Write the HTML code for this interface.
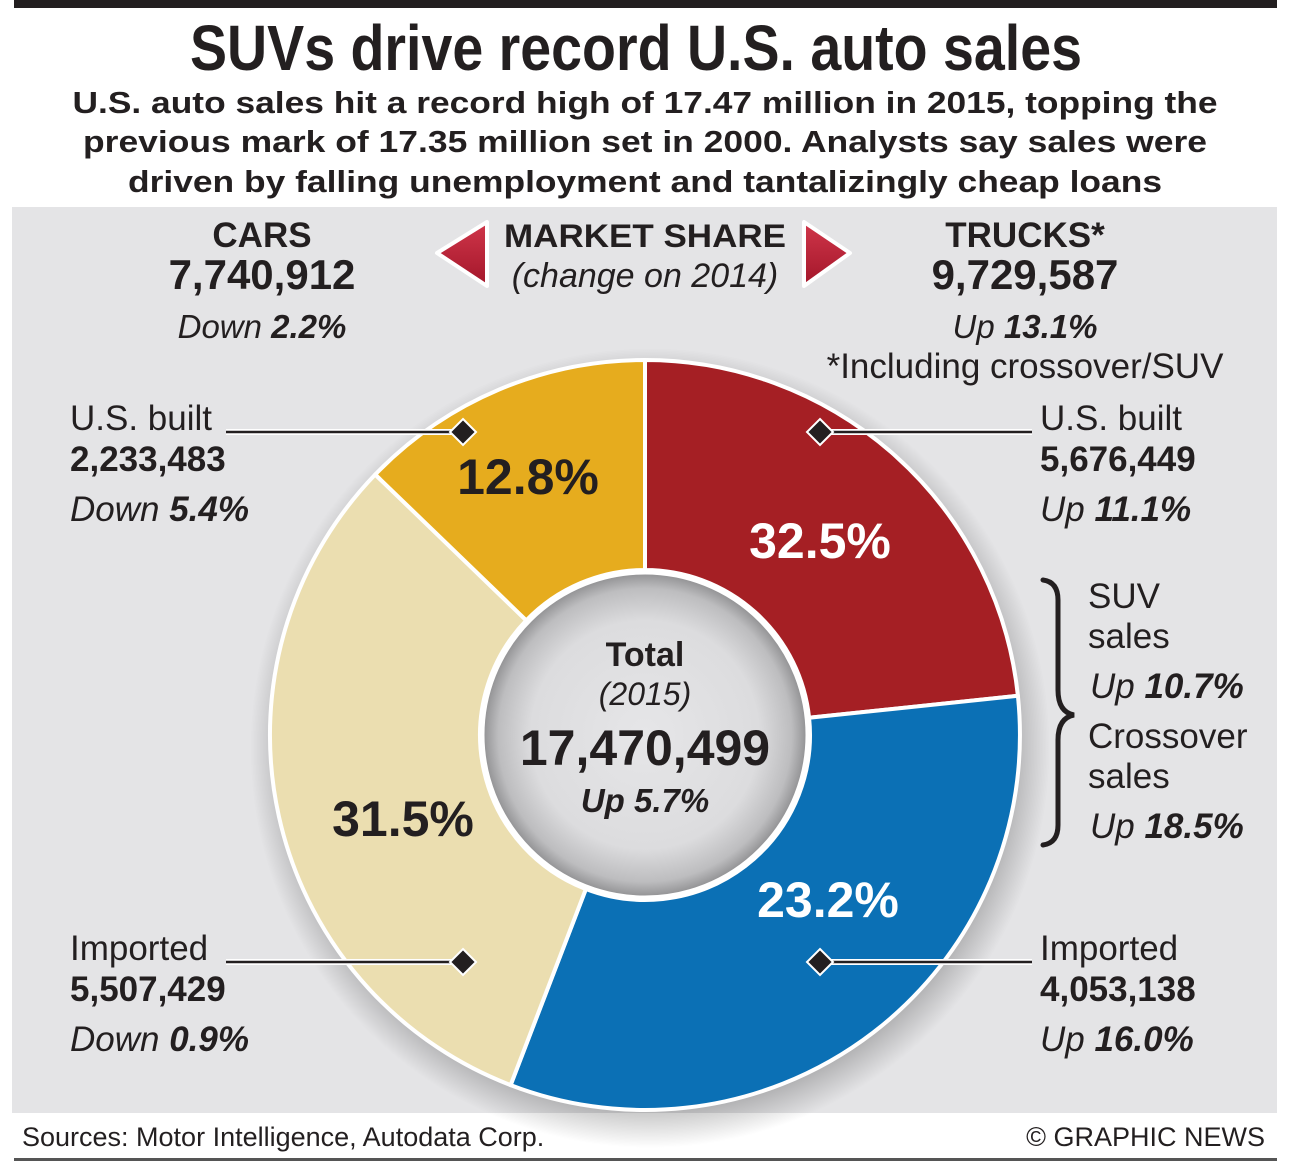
<!DOCTYPE html>
<html><head><meta charset="utf-8"><style>html,body{margin:0;padding:0;background:#fff}svg{display:block}</style></head>
<body>
<svg width="1289" height="1172" viewBox="0 0 1289 1172" xmlns="http://www.w3.org/2000/svg" font-family="Liberation Sans, Arial, sans-serif" fill="#231f20">
<defs>
<radialGradient id="ig" cx="50%" cy="50%" r="50%">
<stop offset="0" stop-color="#e6e6e8"/><stop offset="0.7" stop-color="#dcdcde"/><stop offset="0.9" stop-color="#bdbdbf"/><stop offset="1" stop-color="#8e8e90"/></radialGradient>
<radialGradient id="sh" cx="50%" cy="50%" r="50%">
<stop offset="0.85" stop-color="#000" stop-opacity="0.35"/><stop offset="1" stop-color="#000" stop-opacity="0"/></radialGradient>
<linearGradient id="ar" x1="0" y1="0" x2="0" y2="1"><stop offset="0" stop-color="#d0364a"/><stop offset="1" stop-color="#a3162a"/></linearGradient>
</defs>
<rect x="14" y="0" width="1263" height="8" fill="#231f20"/>
<text x="636" y="70" font-size="64" font-weight="bold" text-anchor="middle" textLength="892" lengthAdjust="spacingAndGlyphs">SUVs drive record U.S. auto sales</text>
<g font-size="31" font-weight="bold" text-anchor="middle">
<text x="645" y="113" textLength="1145" lengthAdjust="spacingAndGlyphs">U.S. auto sales hit a record high of 17.47 million in 2015, topping the</text>
<text x="645" y="152" textLength="1124" lengthAdjust="spacingAndGlyphs">previous mark of 17.35 million set in 2000. Analysts say sales were</text>
<text x="645" y="192" textLength="1034" lengthAdjust="spacingAndGlyphs">driven by falling unemployment and tantalizingly cheap loans</text>
</g>
<rect x="12" y="207" width="1265" height="906" fill="#e4e4e6"/>
<circle cx="650" cy="748" r="400" fill="url(#sh)"/>
<g stroke="#fff" stroke-width="4" stroke-linejoin="round">
<path d="M645,360 A375,375 0 0 1 1017.9,695.8 L809.1,717.8 A165,165 0 0 0 645,570 Z" fill="#a51f24"/>
<path d="M1017.9,695.8 A375,375 0 0 1 510.6,1085.1 L585.9,889 A165,165 0 0 0 809.1,717.8 Z" fill="#0b70b5"/>
<path d="M510.6,1085.1 A375,375 0 0 1 375.2,474.5 L526.3,620.4 A165,165 0 0 0 585.9,889 Z" fill="#ebdeb0"/>
<path d="M375.2,474.5 A375,375 0 0 1 645,360 L645,570 A165,165 0 0 0 526.3,620.4 Z" fill="#e6ac1e"/>
<circle cx="645" cy="735" r="163" fill="url(#ig)" stroke-width="5"/>
</g>
<g font-weight="bold" font-size="50" text-anchor="middle">
<text x="528" y="494">12.8%</text>
<text x="820" y="558" fill="#fff">32.5%</text>
<text x="828" y="917" fill="#fff">23.2%</text>
<text x="403" y="836">31.5%</text>
</g>
<g text-anchor="middle">
<text x="645" y="666" font-size="34" font-weight="bold">Total</text>
<text x="645" y="705" font-size="32" font-style="italic">(2015)</text>
<text x="645" y="765" font-size="50" font-weight="bold">17,470,499</text>
<text x="645" y="812" font-size="33" font-weight="bold" font-style="italic">Up 5.7%</text>
</g>
<g text-anchor="middle">
<text x="262" y="247" font-size="35" font-weight="bold">CARS</text>
<text x="262" y="289" font-size="42" font-weight="bold">7,740,912</text>
<text x="262" y="338" font-size="33" font-style="italic">Down <tspan font-weight="bold">2.2%</tspan></text>
<text x="645" y="247" font-size="32" font-weight="bold" textLength="282" lengthAdjust="spacingAndGlyphs">MARKET SHARE</text>
<text x="645" y="287" font-size="34" font-style="italic">(change on 2014)</text>
<text x="1025" y="247" font-size="35" font-weight="bold">TRUCKS*</text>
<text x="1025" y="289" font-size="42" font-weight="bold">9,729,587</text>
<text x="1025" y="338" font-size="33" font-style="italic">Up <tspan font-weight="bold">13.1%</tspan></text>
<text x="1025" y="378" font-size="35">*Including crossover/SUV</text>
</g>
<path d="M437,253 L487,222 L487,286 Z" fill="url(#ar)" stroke="#fff" stroke-width="4" stroke-linejoin="round"/>
<path d="M850,253 L804,222 L804,286 Z" fill="url(#ar)" stroke="#fff" stroke-width="4" stroke-linejoin="round"/>
<g font-size="35">
<text x="70" y="430">U.S. built</text>
<text x="70" y="471" font-weight="bold">2,233,483</text>
<text x="70" y="521" font-style="italic">Down <tspan font-weight="bold">5.4%</tspan></text>
<text x="70" y="960">Imported</text>
<text x="70" y="1001" font-weight="bold">5,507,429</text>
<text x="70" y="1051" font-style="italic">Down <tspan font-weight="bold">0.9%</tspan></text>
<text x="1040" y="430">U.S. built</text>
<text x="1040" y="471" font-weight="bold">5,676,449</text>
<text x="1040" y="521" font-style="italic">Up <tspan font-weight="bold">11.1%</tspan></text>
<text x="1040" y="960">Imported</text>
<text x="1040" y="1001" font-weight="bold">4,053,138</text>
<text x="1040" y="1051" font-style="italic">Up <tspan font-weight="bold">16.0%</tspan></text>
<text x="1088" y="608">SUV</text>
<text x="1088" y="648">sales</text>
<text x="1090" y="698" font-style="italic">Up <tspan font-weight="bold">10.7%</tspan></text>
<text x="1088" y="748">Crossover</text>
<text x="1088" y="788">sales</text>
<text x="1090" y="838" font-style="italic">Up <tspan font-weight="bold">18.5%</tspan></text>
</g>
<g stroke="#fff" stroke-width="6">
<line x1="226" y1="432" x2="463" y2="432"/><line x1="226" y1="962" x2="463" y2="962"/>
<line x1="820" y1="432" x2="1032" y2="432"/><line x1="820" y1="962" x2="1032" y2="962"/>
</g>
<g stroke="#231f20" stroke-width="2.5">
<line x1="226" y1="432" x2="463" y2="432"/><line x1="226" y1="962" x2="463" y2="962"/>
<line x1="820" y1="432" x2="1032" y2="432"/><line x1="820" y1="962" x2="1032" y2="962"/>
</g>
<g fill="#231f20" stroke="#fff" stroke-width="2">
<path d="M463,419 L476,432 L463,445 L450,432 Z"/><path d="M463,949 L476,962 L463,975 L450,962 Z"/>
<path d="M820,419 L833,432 L820,445 L807,432 Z"/><path d="M820,949 L833,962 L820,975 L807,962 Z"/>
</g>
<path d="M1043,580 Q1058,582 1058,600 L1058,690 Q1058,712 1074,715 Q1058,718 1058,740 L1058,825 Q1058,843 1043,845" fill="none" stroke="#231f20" stroke-width="5" stroke-linecap="round"/>
<text x="22" y="1146" font-size="27">Sources: Motor Intelligence, Autodata Corp.</text>
<text x="1265" y="1146" font-size="27" text-anchor="end">© GRAPHIC NEWS</text>
<rect x="14" y="1158" width="1263" height="3" fill="#555"/>
</svg>
</body></html>
